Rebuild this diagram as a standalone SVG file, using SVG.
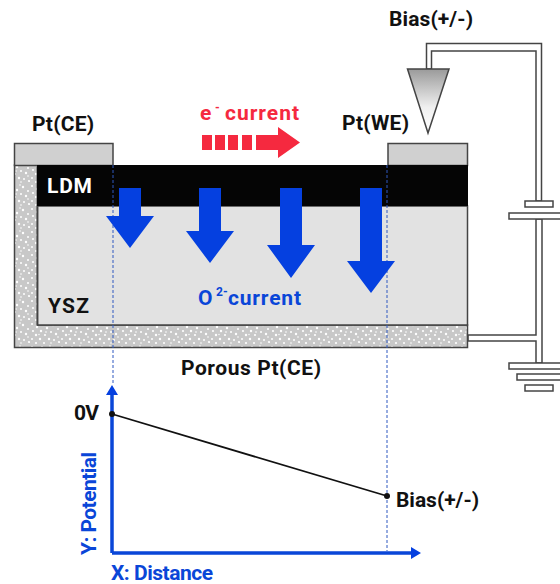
<svg xmlns="http://www.w3.org/2000/svg" width="560" height="584" viewBox="0 0 560 584">
<style>
text{font-family:Roboto,"Liberation Sans",sans-serif;font-weight:700;fill:#111;font-size:21px}
.b{fill:#0a46d8}
.w{fill:#fff;stroke:#444;stroke-width:1.5}
.dash{fill:none;stroke:#2f58c0;stroke-width:1;stroke-dasharray:3 2}
.arrow{fill:#0540e0}
.red{fill:#f5293f}
.sup{font-size:12px}
</style>
<defs>
<pattern id="por" width="30" height="23" patternUnits="userSpaceOnUse">
<rect width="30" height="23" fill="#c8c8c8"/>
<g fill="#fff"><circle cx="2" cy="2" r="1.100"/><circle cx="7" cy="5" r="1.200"/><circle cx="12" cy="2" r="1"/><circle cx="17" cy="6" r="1.200"/><circle cx="23" cy="3" r="1.200"/><circle cx="28" cy="7" r="1"/><circle cx="3" cy="9" r="1.100"/><circle cx="11" cy="9" r="1.200"/><circle cx="21" cy="10" r="1"/><circle cx="26" cy="12" r="1.200"/><circle cx="6" cy="13" r="1.200"/><circle cx="15" cy="13" r="1.100"/><circle cx="2" cy="17" r="1"/><circle cx="10" cy="17" r="1.200"/><circle cx="19" cy="17" r="1.200"/><circle cx="24" cy="18" r="1"/><circle cx="29" cy="20" r="1.100"/><circle cx="6" cy="21" r="1.100"/><circle cx="14" cy="21" r="1"/><circle cx="20" cy="1" r=".8"/><circle cx="16" cy="10" r=".8"/><circle cx="21" cy="21" r=".8"/><circle cx="28" cy="15" r=".8"/><circle cx="9" cy="12.500" r=".7"/></g>
</pattern>
<linearGradient id="tip" x1="0" y1="0" x2="0" y2="1"><stop offset="0" stop-color="#9a9a9a"/><stop offset=".6" stop-color="#f0f0f0"/><stop offset="1" stop-color="#fff"/></linearGradient>
</defs>
<g id="connectors">
<path d="M426.500 69V43.500H541.500V201H536V51H431.500V69Z" class="w"/>
<path d="M468 335H536V219H542V363H536V341H468Z" class="w"/>
<rect class="w" x="525" y="201" width="28" height="6"/>
<rect class="w" x="509" y="213" width="53" height="6"/>
<rect class="w" x="509" y="363" width="53" height="6"/>
<rect class="w" x="517" y="374" width="45" height="6"/>
<rect class="w" x="525" y="385" width="28" height="6"/>
</g>
<g id="tip-probe"><path d="M407.500 69H449L428 133Z" fill="url(#tip)" stroke="#444" stroke-width="1.500"/></g>
<g id="porous-pt">
<path d="M14.500 165H37.500V325H467.500V347.500H14.500Z" fill="url(#por)" stroke="#444" stroke-width="1.500"/>
</g>
<g id="pt-ce"><path d="M14.500 165.500V143.500H113V165.500Z" fill="#d0d0d0" stroke="#444" stroke-width="1.500"/></g>
<g id="pt-we"><rect x="388" y="143.500" width="79.500" height="22" fill="#d0d0d0" stroke="#444" stroke-width="1.500"/></g>
<g id="ysz"><rect x="37.500" y="206" width="430" height="119" fill="#e2e2e2" stroke="#444" stroke-width="1.500"/><path d="M37.500 166V325" stroke="#444" stroke-width="1.500"/></g>
<g id="ldm"><rect x="37" y="165" width="431" height="41" fill="#050505"/></g>
<g id="guides">
<path class="dash" d="M113 165V383M387 165V551"/>
</g>
<g id="o-arrows">
<path class="arrow" d="M119 188h22v28h13l-24 32-24-32h13Z"/>
<path class="arrow" d="M199 188h22v43h13l-24 32-24-32h13Z"/>
<path class="arrow" d="M280 188h22v57h13l-24 33-24-33h13Z"/>
<path class="arrow" d="M360 188h22v73h13l-24 32-24-32h13Z"/>
</g>
<g id="e-arrow">
<path class="red" d="M202 135h10v15h-10ZM215 135h10v15h-10ZM228 135h10v15h-10ZM242 135h10v15h-10ZM256 135h22v-8l22 15.500-22 15.500v-8h-22Z"/>
</g>
<g id="graph">
<path d="M112 553V390M112 553H414" fill="none" stroke="#0a46d8" stroke-width="3.500"/>
<path class="arrow" d="M112 385l6 10h-12ZM421 553l-10-6v12Z"/>
<path d="M112 414L387 496" stroke="#111" stroke-width="1.800"/>
<circle cx="112" cy="414" r="3" fill="#111"/><circle cx="387" cy="496" r="3" fill="#111"/>
</g>
<g id="labels">
<text x="389" y="26" textLength="84">Bias(+/-)</text>
<text x="342" y="130" textLength="67">Pt(WE)</text>
<text x="32" y="131" textLength="62">Pt(CE)</text>
<text x="200" y="120" style="fill:#f5293f"><tspan>e</tspan><tspan class="sup" x="215" y="112" style="fill:#f5293f">-</tspan><tspan x="225" y="120" textLength="74">current</tspan></text>
<text x="47" y="193" textLength="45" style="fill:#fff">LDM</text>
<text x="48" y="313" textLength="41">YSZ</text>
<text x="198" y="305" class="b"><tspan>O</tspan><tspan class="sup" x="216" y="296">2-</tspan><tspan x="228" y="305" textLength="73">current</tspan></text>
<text x="181" y="375" textLength="140">Porous Pt(CE)</text>
<text x="74" y="420" textLength="25">0V</text>
<text x="396" y="507" textLength="83">Bias(+/-)</text>
<text x="96" y="555" textLength="103" class="b" transform="rotate(-90 96 555)">Y: Potential</text>
<text x="111" y="580" textLength="102" class="b">X: Distance</text>
</g>
</svg>
